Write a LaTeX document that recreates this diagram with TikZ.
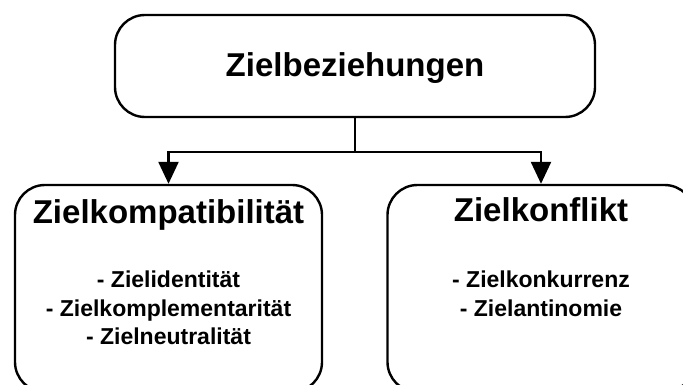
\documentclass[tikz,border=0pt]{standalone}
\usepackage{fontspec}
\setmainfont{Liberation Sans}
\usetikzlibrary{positioning,arrows.meta}
\tikzset{
  zielbox/.style={draw=black, line width=2.4pt, rounded corners=30pt, inner sep=0pt},
  titel/.style={font=\fontsize{33}{40}\selectfont\bfseries, anchor=base, inner sep=0pt},
  liste/.style={font=\fontsize{23}{28.5}\selectfont\bfseries, align=center, anchor=north, inner sep=0pt},
  linie/.style={line width=2.4pt},
  pfeil/.style={line width=2.4pt, -{Triangle[length=22pt,width=20pt]}}
}

\begin{document}
\begin{tikzpicture}[x=1pt,y=-1pt]
  \clip (0,0) rectangle (683,385);
  % boxes
  \node[zielbox, minimum width=480pt, minimum height=102pt] (ziel) at (355,66) {};
  \node[zielbox, minimum width=307pt, minimum height=207pt] (kompat) at (168.5,288.5) {};
  \node[zielbox, minimum width=307pt, minimum height=207pt] (konflikt) at (541,288.5) {};
  % texts
  \node[titel] (zielT) at ([yshift=-11pt]ziel.center) {Zielbeziehungen};
  \node[titel] (kompatT) at ([yshift=-40pt]kompat.north) {Zielkompatibilität};
  \node[titel] (konfliktT) at ([yshift=-38pt]konflikt.north) {Zielkonflikt};
  \node[liste] (kompatL) at ([yshift=-87pt]kompat.north) {- Zielidentität\\- Zielkomplementarität\\- Zielneutralität};
  \node[liste] (konfliktL) at ([yshift=-87pt]konflikt.north) {- Zielkonkurrenz\\- Zielantinomie};
  % connectors
  \coordinate (gabel) at (355,152);
  \draw[linie] (ziel.south) -- (gabel);
  \draw[pfeil] (gabel) -| (kompat.north);
  \draw[pfeil] (gabel) -| (konflikt.north);
\end{tikzpicture}
\end{document}
